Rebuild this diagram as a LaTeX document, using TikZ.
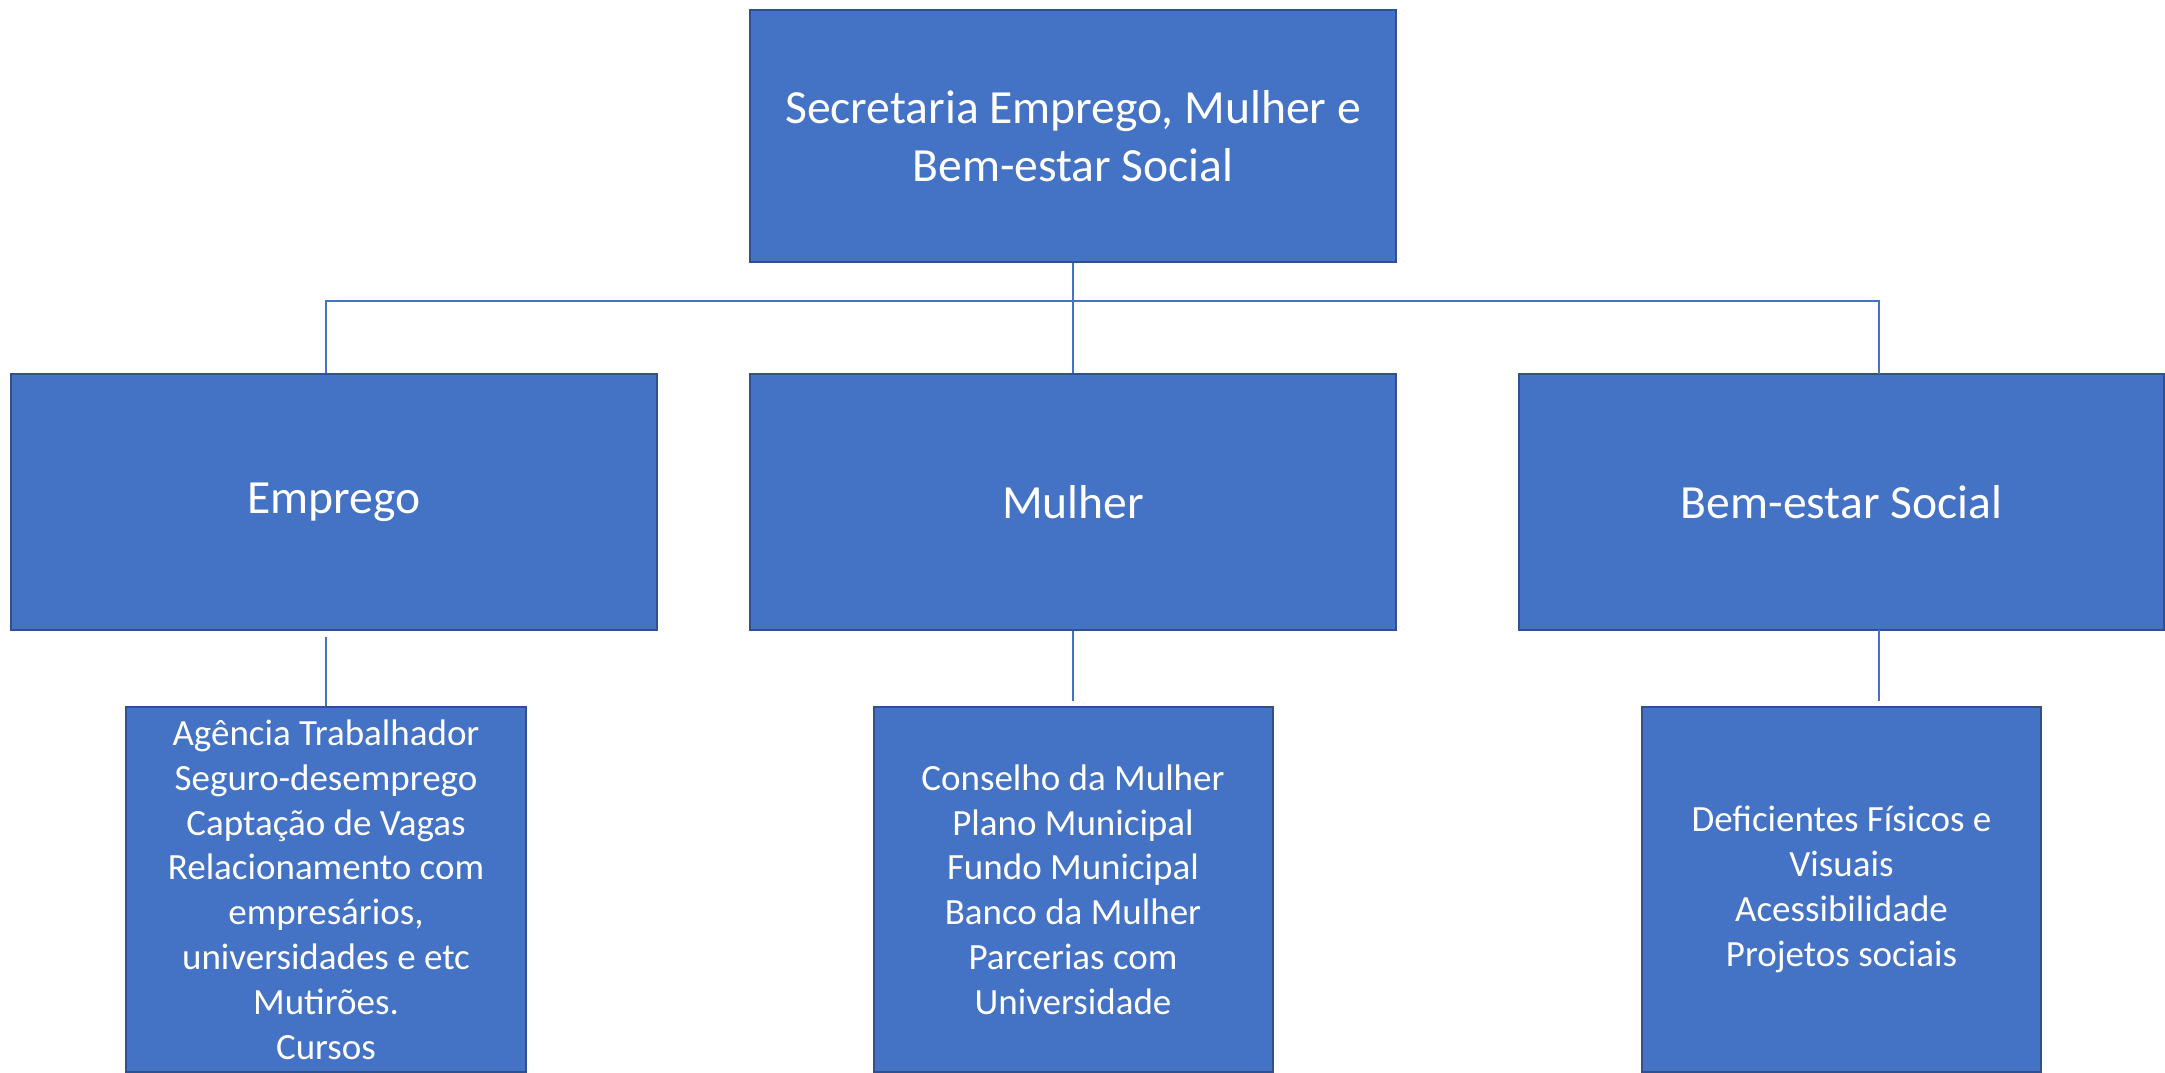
\documentclass[tikz,border=0pt]{standalone}
\usepackage{fontspec}
\setmainfont{Carlito}
\definecolor{boxfill}{HTML}{4472C4}
\definecolor{boxline}{HTML}{2F528F}
\definecolor{conn}{HTML}{4472C4}
\begin{document}
\begin{tikzpicture}[x=0.5pt,y=-0.5pt,
  orgbox/.style={draw=boxline, fill=boxfill, line width=1pt, text=white,
    align=center, inner sep=0pt, anchor=center},
  bigtext/.style={font=\fontsize{23.8}{29}\selectfont},
  smalltext/.style={font=\fontsize{18.5}{22.4}\selectfont},
  connline/.style={draw=conn, line width=0.75pt}]
\useasboundingbox (0,0) rectangle (2165,1072);
\fill[white] (0,0) rectangle (2165,1072);

\node[orgbox, bigtext, minimum width=323pt, minimum height=126pt] (top) at (1073,136)
  {Secretaria Emprego, Mulher e\\Bem-estar Social};

\node[orgbox, bigtext, minimum width=323pt, minimum height=128pt] (emprego) at (334,502) {Emprego};
\node[orgbox, bigtext, minimum width=323pt, minimum height=128pt] (mulher) at (1073,502) {Mulher};
\node[orgbox, bigtext, minimum width=322.5pt, minimum height=128pt] (bem) at (1841.5,502) {Bem-estar Social};

\node[orgbox, smalltext, minimum width=200pt, minimum height=182.5pt] (empsub) at (326,889.5)
  {Agência Trabalhador\\Seguro-desemprego\\Captação de Vagas\\Relacionamento com\\empresários,\\universidades e etc\\Mutirões.\\Cursos};
\node[orgbox, smalltext, minimum width=199.5pt, minimum height=182.5pt] (mulsub) at (1073,889.5)
  {Conselho da Mulher\\Plano Municipal\\Fundo Municipal\\Banco da Mulher\\Parcerias com\\Universidade};
\node[orgbox, smalltext, minimum width=199.5pt, minimum height=182.5pt] (bemsub) at (1841.5,889.5)
  {Deficientes Físicos e\\Visuais\\Acessibilidade\\Projetos sociais};

\coordinate (bus) at (1073,301);
\coordinate (bemtop) at (1879,374);
\coordinate (bembot) at (1879,630);

\draw[connline] (top.south) -- (mulher.north);
\draw[connline] (empsub.north |- emprego.north) |- (bus) -| (bemtop);
\draw[connline] ([yshift=-3pt]empsub.north |- emprego.south) -- (empsub.north);
\draw[connline] (mulher.south) -- ([yshift=2.5pt]mulsub.north);
\draw[connline] (bembot) -- ([yshift=2.5pt]bembot |- bemsub.north);
\end{tikzpicture}
\end{document}
